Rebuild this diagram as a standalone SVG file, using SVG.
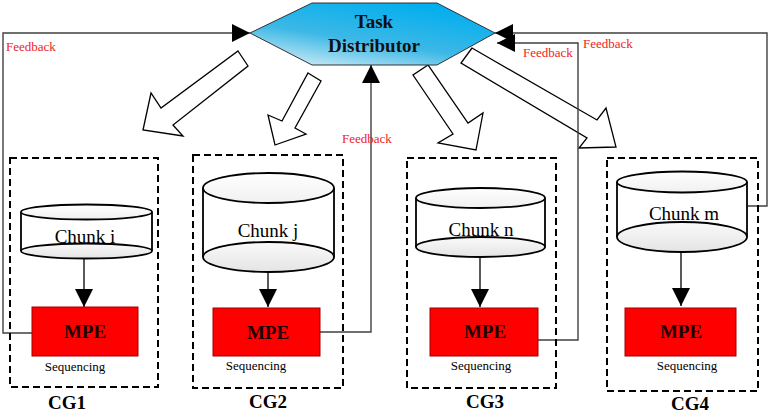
<svg xmlns="http://www.w3.org/2000/svg" width="772" height="416" viewBox="0 0 772 416">
<style>
.fb{fill:none;stroke:#404040;stroke-width:1.4}
.blk{fill:#fff;stroke:#000;stroke-width:1.3;stroke-linejoin:miter}
.cg{fill:none;stroke:#000;stroke-width:2;stroke-dasharray:7 4}
.cyl{stroke:#000;stroke-width:1.8}
.mpe{fill:#ff0000;stroke:#a00000;stroke-width:1}
.ln{stroke:#000;stroke-width:1.3}
.fbt{font-family:"Liberation Serif",serif;font-size:13px;fill:#ee1c25}
.chunk{font-family:"Liberation Serif",serif;font-size:19px;fill:#000;text-anchor:middle}
.mpet{font-family:"Liberation Serif",serif;font-size:19px;font-weight:bold;fill:#200000;text-anchor:middle}
.seq{font-family:"Liberation Serif",serif;font-size:13px;fill:#000;text-anchor:middle}
.cgt{font-family:"Liberation Serif",serif;font-size:19px;font-weight:bold;fill:#000;text-anchor:middle}
.td{font-family:"Liberation Serif",serif;font-size:19px;font-weight:bold;fill:#111;text-anchor:middle}
</style>
<defs>
<linearGradient id="hexg" x1="0.1" y1="1" x2="0.7" y2="0">
<stop offset="0" stop-color="#d6eef6"/>
<stop offset="0.45" stop-color="#3cb8e6"/>
<stop offset="1" stop-color="#00aeef"/>
</linearGradient>
<linearGradient id="topg" x1="0" y1="0" x2="0" y2="1">
<stop offset="0" stop-color="#ffffff"/>
<stop offset="1" stop-color="#f0f0f0"/>
</linearGradient>
<linearGradient id="botg" x1="0" y1="0" x2="0" y2="1">
<stop offset="0" stop-color="#fafafa"/>
<stop offset="1" stop-color="#e4e4e4"/>
</linearGradient>
<marker id="ah" viewBox="0 0 18 18" refX="18" refY="9" markerWidth="18" markerHeight="18" markerUnits="userSpaceOnUse" orient="auto">
<path d="M0,0 L18,9 L0,18 Z" fill="#000"/>
</marker>
</defs>

<g id="connectors">
<polygon class="blk" points="238,51 248,66 173,125 183,136 143,130 151,93 161,108"/>
<polygon class="blk" points="308,73 321,81 295,128 306,134 275,145 268,115 282,121"/>
<polygon class="blk" points="428,65 413,75 453,134 438,143 476,150 483,113 468,123"/>
<polygon class="blk" points="472,48 461,63 587,138 579,148 616,147 606,108 597,120"/>
<polyline class="fb" points="32,333 3,333 3,33 250,33" marker-end="url(#ah)"/>
<polyline class="fb" points="320,332 371,332 371,65" marker-end="url(#ah)"/>
<polyline class="fb" points="538,340 578,340 578,43 497,43" marker-end="url(#ah)"/>
<polyline class="fb" points="747,206 767,206 767,33 495,33" marker-end="url(#ah)"/>
<line class="ln" x1="84" y1="258" x2="84" y2="307" marker-end="url(#ah)"/>
<line class="ln" x1="268" y1="272" x2="268" y2="307" marker-end="url(#ah)"/>
<line class="ln" x1="480" y1="257" x2="480" y2="307" marker-end="url(#ah)"/>
<line class="ln" x1="681" y1="252" x2="681" y2="306" marker-end="url(#ah)"/>
</g>

<g id="task-distributor">
<polygon points="250,33 312,3 437,3 495,33 437,65 312,65" fill="url(#hexg)" stroke="#333" stroke-width="1"/>
<text class="td" x="374" y="28">Task</text>
<text class="td" x="374" y="52">Distributor</text>
</g>

<g id="feedback-labels">
<text class="fbt" x="6" y="51">Feedback</text>
<text class="fbt" x="342" y="143">Feedback</text>
<text class="fbt" x="523" y="57">Feedback</text>
<text class="fbt" x="583" y="48">Feedback</text>
</g>

<g id="cg1">
<rect class="cg" x="10" y="158" width="148" height="229"/>
<rect x="21" y="212" width="131" height="39" fill="#fff"/>
<line class="cyl" x1="21" y1="212" x2="21" y2="251"/>
<line class="cyl" x1="152" y1="212" x2="152" y2="251"/>
<ellipse class="cyl" cx="86.5" cy="251" rx="65.5" ry="7.5" fill="url(#botg)"/>
<ellipse class="cyl" cx="86.5" cy="212" rx="65.5" ry="7.5" fill="url(#topg)"/>
<text class="chunk" x="85" y="243">Chunk i</text>
<rect class="mpe" x="32" y="307" width="106" height="49"/>
<text class="mpet" x="85" y="338">MPE</text>
<text class="seq" x="75" y="371">Sequencing</text>
<text class="cgt" x="67" y="409">CG1</text>
</g>

<g id="cg2">
<rect class="cg" x="193" y="155" width="150" height="233"/>
<rect x="203" y="188" width="131" height="69" fill="#fff"/>
<line class="cyl" x1="203" y1="188" x2="203" y2="257"/>
<line class="cyl" x1="334" y1="188" x2="334" y2="257"/>
<ellipse class="cyl" cx="268.5" cy="257" rx="65.5" ry="15" fill="url(#botg)"/>
<ellipse class="cyl" cx="268.5" cy="188" rx="65.5" ry="15" fill="url(#topg)"/>
<text class="chunk" x="268" y="237">Chunk j</text>
<rect class="mpe" x="213" y="308" width="107" height="48"/>
<text class="mpet" x="268" y="339">MPE</text>
<text class="seq" x="256" y="370">Sequencing</text>
<text class="cgt" x="268" y="408">CG2</text>
</g>

<g id="cg3">
<rect class="cg" x="407" y="158" width="149" height="230"/>
<rect x="416" y="198" width="129" height="49" fill="#fff"/>
<line class="cyl" x1="416" y1="198" x2="416" y2="247"/>
<line class="cyl" x1="545" y1="198" x2="545" y2="247"/>
<ellipse class="cyl" cx="480.5" cy="247" rx="64.5" ry="10" fill="url(#botg)"/>
<ellipse class="cyl" cx="480.5" cy="198" rx="64.5" ry="10" fill="url(#topg)"/>
<text class="chunk" x="481" y="236">Chunk n</text>
<rect class="mpe" x="430" y="308" width="108" height="48"/>
<text class="mpet" x="485" y="338">MPE</text>
<text class="seq" x="481" y="370">Sequencing</text>
<text class="cgt" x="485" y="408">CG3</text>
</g>

<g id="cg4">
<rect class="cg" x="607" y="158" width="151" height="233"/>
<rect x="617" y="182" width="130" height="55" fill="#fff"/>
<line class="cyl" x1="617" y1="182" x2="617" y2="237"/>
<line class="cyl" x1="747" y1="182" x2="747" y2="237"/>
<ellipse class="cyl" cx="682" cy="237" rx="65" ry="15" fill="url(#botg)"/>
<ellipse class="cyl" cx="682" cy="182" rx="65" ry="10.5" fill="url(#topg)"/>
<text class="chunk" x="684" y="220">Chunk m</text>
<rect class="mpe" x="625" y="308" width="111" height="48"/>
<text class="mpet" x="681" y="338">MPE</text>
<text class="seq" x="687" y="370">Sequencing</text>
<text class="cgt" x="690" y="410">CG4</text>
</g>
</svg>
